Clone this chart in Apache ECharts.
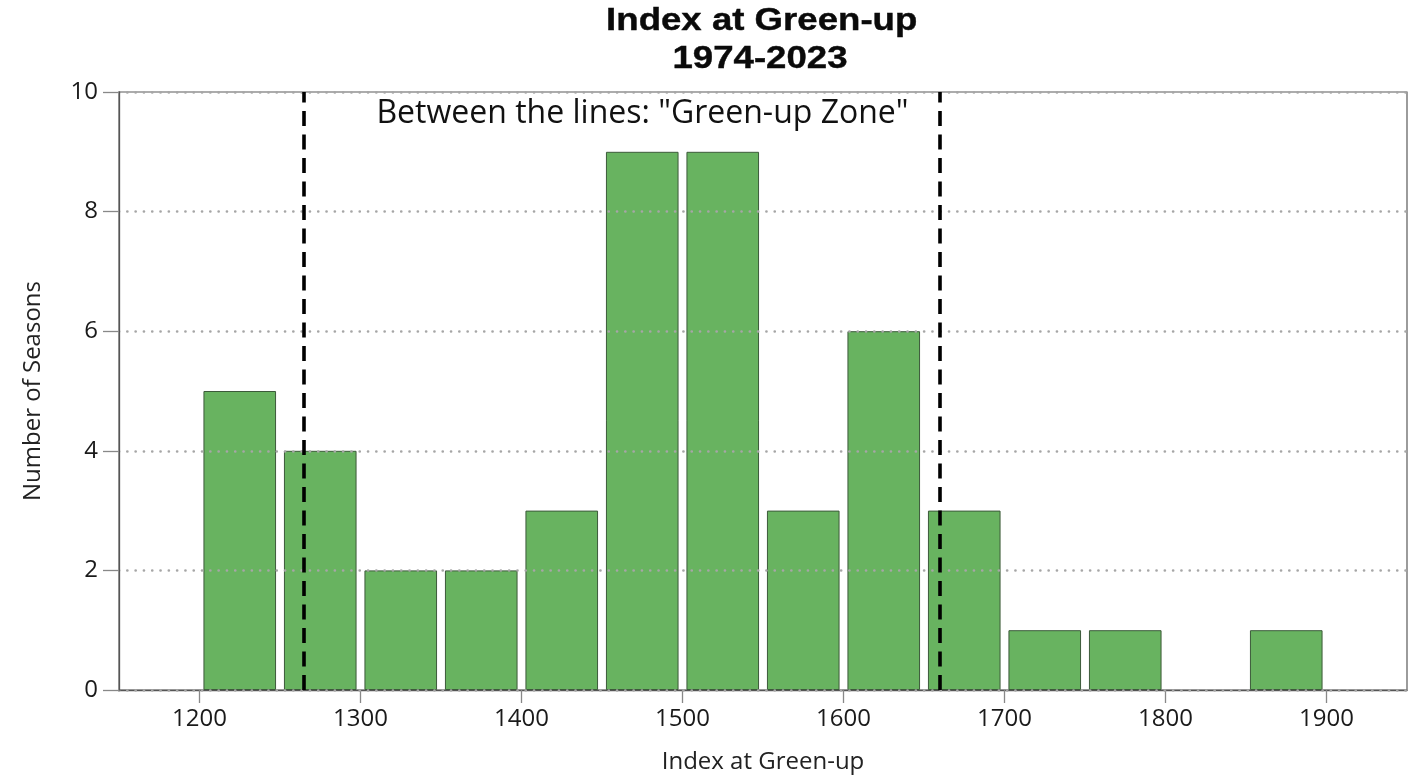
<!DOCTYPE html>
<html>
<head>
<meta charset="utf-8">
<script src="https://cdn.jsdelivr.net/npm/echarts@6/dist/echarts.min.js"></script>
<style>
html,body{margin:0;padding:0;background:#fff;}
#chart{width:1408px;height:779px;}
</style>
</head>
<body>
<div id="chart"></div>
<script>
const binCenters = [1225, 1275, 1325, 1375, 1425, 1475, 1525, 1575, 1625, 1675, 1725, 1775, 1825, 1875];
const seasonCounts = [5, 4, 2, 2, 3, 9, 9, 3, 6, 3, 1, 1, 0, 1];
const xTickValues = [1200, 1300, 1400, 1500, 1600, 1700, 1800, 1900];
const zoneBounds = [1265, 1660];
const titleLines = ['Index at Green-up', '1974-2023'];
const zoneNote = 'Between the lines: "Green-up Zone"';
const xAxisTitle = 'Index at Green-up';
const yAxisTitle = 'Number of Seasons';

const chart = echarts.init(document.getElementById('chart'), null, {renderer: 'canvas'});
const bodyFont = '"Open Sans", "Noto Sans", sans-serif';

const barData = binCenters
  .map((c, i) => [c, seasonCounts[i]])
  .filter(d => d[1] > 0);

const option = {
  animation: false,
  backgroundColor: '#ffffff',
  grid: {left: 119, right: 1, top: 92, bottom: 87, show: true, borderColor: '#5a5a5a', borderWidth: 1.2, backgroundColor: 'transparent'},
  graphic: [
    {type: 'text', x: 761.7, y: 21.5, scaleX: 1.2, z: 10,
     style: {text: titleLines[0], fontFamily: '"Liberation Sans", Arial, sans-serif', fontWeight: 'bold', fontSize: 30.5,
             fill: '#0a0a0a', stroke: '#0a0a0a', lineWidth: 0.4, textAlign: 'center', textVerticalAlign: 'middle', align: 'center', verticalAlign: 'middle'}},
    {type: 'text', x: 760, y: 59.5, scaleX: 1.2, z: 10,
     style: {text: titleLines[1], fontFamily: '"Liberation Sans", Arial, sans-serif', fontWeight: 'bold', fontSize: 30.5,
             fill: '#0a0a0a', stroke: '#0a0a0a', lineWidth: 0.4, textAlign: 'center', textVerticalAlign: 'middle', align: 'center', verticalAlign: 'middle'}},
    {type: 'text', x: 642.5, y: 113.5, z: 10,
     style: {text: zoneNote, fontFamily: bodyFont, fontSize: 32,
             fill: '#111', textAlign: 'center', textVerticalAlign: 'middle', align: 'center', verticalAlign: 'middle'}}
  ],
  xAxis: {
    type: 'value', min: 1150, max: 1950, interval: 50,
    name: xAxisTitle, nameLocation: 'middle', nameGap: 60,
    nameTextStyle: {fontFamily: bodyFont, fontSize: 24, color: '#222', lineHeight: 24},
    axisLine: {show: true, onZero: false, lineStyle: {color: '#555', width: 1.3}},
    axisTick: {show: true, customValues: xTickValues, length: 13, lineStyle: {color: '#888', width: 1.3}},
    axisLabel: {customValues: xTickValues, formatter: v => String(v), fontFamily: bodyFont, fontSize: 24, color: '#1a1a1a', margin: 17, lineHeight: 24},
    splitLine: {show: false}
  },
  yAxis: {
    type: 'value', min: 0, max: 10, interval: 2, z: 3,
    name: yAxisTitle, nameLocation: 'middle', nameGap: 74, nameRotate: 90,
    nameTextStyle: {fontFamily: bodyFont, fontSize: 24, color: '#222', lineHeight: 24},
    axisLine: {show: true, lineStyle: {color: '#555', width: 1.3}},
    axisTick: {show: true, length: 16, lineStyle: {color: '#888', width: 1.3}},
    axisLabel: {formatter: v => String(v), fontFamily: bodyFont, fontSize: 24, color: '#1a1a1a', margin: 21},
    splitLine: {show: true, lineStyle: {color: '#a6a6a6', width: 2.6, type: [0.1, 8.2], cap: 'round'}}
  },
  series: [{
    type: 'bar',
    data: barData,
    barWidth: 72.6,
    z: 2,
    itemStyle: {color: '#68b360', borderColor: '#3c5a3a', borderWidth: 1},
    markLine: {
      silent: true,
      symbol: ['none', 'none'],
      label: {show: false},
      lineStyle: {color: '#000', width: 3.6, type: [15, 8.5]},
      data: zoneBounds.map(v => ({xAxis: v}))
    }
  }]
};
chart.setOption(option);
</script>
</body>
</html>
